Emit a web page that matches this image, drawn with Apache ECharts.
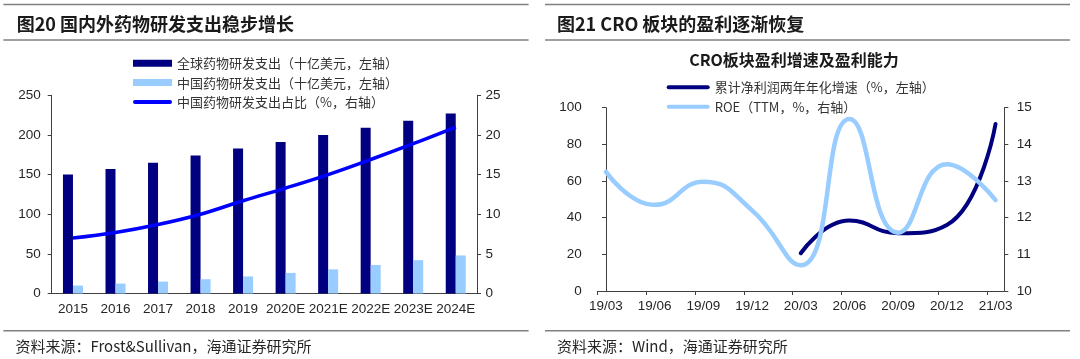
<!DOCTYPE html>
<html>
<head>
<meta charset="utf-8">
<script src="https://cdn.jsdelivr.net/npm/echarts@6/dist/echarts.min.js"></script>
<style>
html,body{margin:0;padding:0;background:#fff;}
#c{width:1080px;height:359px;}
</style>
</head>
<body>
<div id="c"></div>
<script>
// ---- Data: left chart ----
const years = ['2015','2016','2017','2018','2019','2020E','2021E','2022E','2023E','2024E'];
const globalRD = [150,157,165,174,183,191,200,209,218,227];
const chinaRD = [10,12.5,15,18,21.5,26,30.5,36,42,48];
const chinaShare = [7.0,7.7,8.7,10.0,11.7,13.3,15.0,16.9,18.9,21.0];
const leftNames = ['全球药物研发支出（十亿美元，左轴）','中国药物研发支出（十亿美元，左轴）','中国药物研发支出占比（%，右轴）'];

// ---- Data: right chart ----
const quarters = ['19/03','19/06','19/09','19/12','20/03','20/06','20/09','20/12','21/03'];
const profitGrowth = [null,null,null,null,20.6,38.4,31.5,36.0,91.1];
const roe = [13.25,12.35,12.98,12.2,10.7,14.69,11.59,13.46,12.48];
const rightNames = ['累计净利润两年年化增速（%，左轴）','ROE（TTM，%，右轴）'];

// ---- Texts ----
const titleLeft = '图20 国内外药物研发支出稳步增长';
const titleRight = '图21 CRO 板块的盈利逐渐恢复';
const chartTitleRight = 'CRO板块盈利增速及盈利能力';
const sourceLeft = '资料来源：Frost&Sullivan，海通证券研究所';
const sourceRight = '资料来源：Wind，海通证券研究所';

const FONT = '"Liberation Sans", Arial, "Noto Sans CJK SC", sans-serif';
const CJK = '"Noto Sans CJK SC", "Liberation Sans", sans-serif';
const AXIS_COLOR = '#404040';
const LABEL_COLOR = '#262626';

const toPairs = arr => arr.map((v, i) => v == null ? null : [i, v]).filter(p => p);
const off = 0.17;
const tickPos = quarters.map((q, i) => i - off);

// rounded thick-line legend icons
const lineIcon39 = 'path://M2,0 L37,0 A2,2 0 0 1 37,4 L2,4 A2,2 0 0 1 2,0 Z';
const lineIcon43 = 'path://M2,0 L41,0 A2,2 0 0 1 41,4 L2,4 A2,2 0 0 1 2,0 Z';

const chart = echarts.init(document.getElementById('c'), null, {renderer: 'canvas'});

function rule(x1, x2, y) {
  return {type: 'line', shape: {x1: x1, y1: y, x2: x2, y2: y}, style: {stroke: '#808080', lineWidth: 1.5}, silent: true};
}
function txt(t, x, y, size, weight, color, align) {
  return {type: 'text', x: x, y: y, style: {text: t, font: weight + ' ' + size + 'px ' + CJK, fill: color, verticalAlign: 'middle', align: align || 'left'}, silent: true};
}

const yLabel = (margin) => ({fontSize: 13.5, color: LABEL_COLOR, fontFamily: FONT, margin: margin});

chart.setOption({
  backgroundColor: '#fff',
  animation: false,
  grid: [
    {left: 51.7, right: 1080 - 477, top: 95.3, bottom: 359 - 293.5, containLabel: false},
    {left: 597.7, right: 1080 - 1004.3, top: 107.7, bottom: 359 - 291, containLabel: false}
  ],
  legend: [
    {
      orient: 'vertical', left: 128, top: 51.3, itemWidth: 39, itemHeight: 7, itemGap: 5.3,
      textStyle: {fontSize: 13, color: '#333', fontFamily: CJK, lineHeight: 14},
      data: [
        {name: leftNames[0], icon: 'rect'},
        {name: leftNames[1], icon: 'rect'},
        {name: leftNames[2], icon: lineIcon39}
      ]
    },
    {
      orient: 'vertical', left: 661.7, top: 75.3, itemWidth: 43, itemHeight: 7, itemGap: 5.4,
      textStyle: {fontSize: 13, color: '#333', fontFamily: CJK, lineHeight: 14},
      data: [{name: rightNames[0], icon: lineIcon43}, {name: rightNames[1], icon: lineIcon43}]
    }
  ],
  xAxis: [
    {
      type: 'category', gridIndex: 0, data: years,
      axisLine: {lineStyle: {color: AXIS_COLOR, width: 1}},
      axisTick: {show: false},
      axisLabel: {fontSize: 13.5, color: LABEL_COLOR, fontFamily: FONT, margin: 9, interval: 0},
      splitLine: {show: false}
    },
    {
      type: 'value', gridIndex: 1, min: -off, max: 8.18,
      axisLine: {onZero: false, lineStyle: {color: AXIS_COLOR, width: 1}},
      axisTick: {show: true, length: 4, inside: false, customValues: tickPos, lineStyle: {color: AXIS_COLOR}},
      axisLabel: {fontSize: 13.5, color: LABEL_COLOR, fontFamily: FONT, margin: 9,
        customValues: quarters.map((q, i) => i),
        formatter: v => quarters[Math.round(v)] || ''},
      splitLine: {show: false}
    }
  ],
  yAxis: [
    {
      type: 'value', gridIndex: 0, position: 'left', min: 0, max: 250, interval: 50,
      axisLine: {show: true, lineStyle: {color: AXIS_COLOR}},
      axisTick: {show: true, length: 4, lineStyle: {color: AXIS_COLOR}},
      axisLabel: yLabel(11), splitLine: {show: false}
    },
    {
      type: 'value', gridIndex: 0, position: 'right', min: 0, max: 25, interval: 5,
      axisLine: {show: true, lineStyle: {color: AXIS_COLOR}},
      axisTick: {show: true, length: 4, lineStyle: {color: AXIS_COLOR}},
      axisLabel: yLabel(8.5), splitLine: {show: false}
    },
    {
      type: 'value', gridIndex: 1, position: 'left', min: 0, max: 100, interval: 20,
      axisLine: {show: true, lineStyle: {color: AXIS_COLOR}},
      axisTick: {show: true, length: 4, lineStyle: {color: AXIS_COLOR}},
      axisLabel: yLabel(16), splitLine: {show: false}
    },
    {
      type: 'value', gridIndex: 1, position: 'right', min: 10, max: 15, interval: 1,
      axisLine: {show: true, lineStyle: {color: AXIS_COLOR}},
      axisTick: {show: true, length: 4, lineStyle: {color: AXIS_COLOR}},
      axisLabel: yLabel(12.5), splitLine: {show: false}
    }
  ],
  series: [
    {name: leftNames[0], type: 'bar', xAxisIndex: 0, yAxisIndex: 0, data: globalRD,
      barWidth: 10, barGap: '0%', itemStyle: {color: '#000080'}},
    {name: leftNames[1], type: 'bar', xAxisIndex: 0, yAxisIndex: 0, data: chinaRD,
      barWidth: 10, barGap: '0%', itemStyle: {color: '#99CCFF'}},
    {name: leftNames[2], type: 'line', xAxisIndex: 0, yAxisIndex: 1, data: chinaShare,
      smooth: 0.4, showSymbol: false, symbol: 'none', lineStyle: {color: '#0000FF', width: 3.5},
      itemStyle: {color: '#0000FF'}},
    {name: rightNames[0], type: 'line', xAxisIndex: 1, yAxisIndex: 2, data: toPairs(profitGrowth),
      smooth: 0.5, symbol: 'none', lineStyle: {color: '#000080', width: 4, cap: 'round'},
      itemStyle: {color: '#000080'}},
    {name: rightNames[1], type: 'line', xAxisIndex: 1, yAxisIndex: 3, data: toPairs(roe),
      smooth: 0.5, symbol: 'none', lineStyle: {color: '#99CCFF', width: 4.5, cap: 'round'},
      itemStyle: {color: '#99CCFF'}}
  ],
  graphic: [
    rule(3.4, 528.6, 4.6), rule(3.4, 528.6, 40), rule(3.4, 528.6, 330.7),
    rule(545, 1070, 4.6), rule(545, 1070, 40), rule(545, 1070, 330.7),
    txt(titleLeft, 16.7, 24.5, 18, 'bold', '#1a1a1a'),
    txt(titleRight, 557, 24.5, 18, 'bold', '#1a1a1a'),
    txt(chartTitleRight, 794, 60, 16, 'bold', '#1a1a1a', 'center'),
    txt(sourceLeft, 15.5, 346.7, 15, 'normal', '#262626'),
    txt(sourceRight, 557, 346.7, 15, 'normal', '#262626')
  ]
});
</script>
</body>
</html>
